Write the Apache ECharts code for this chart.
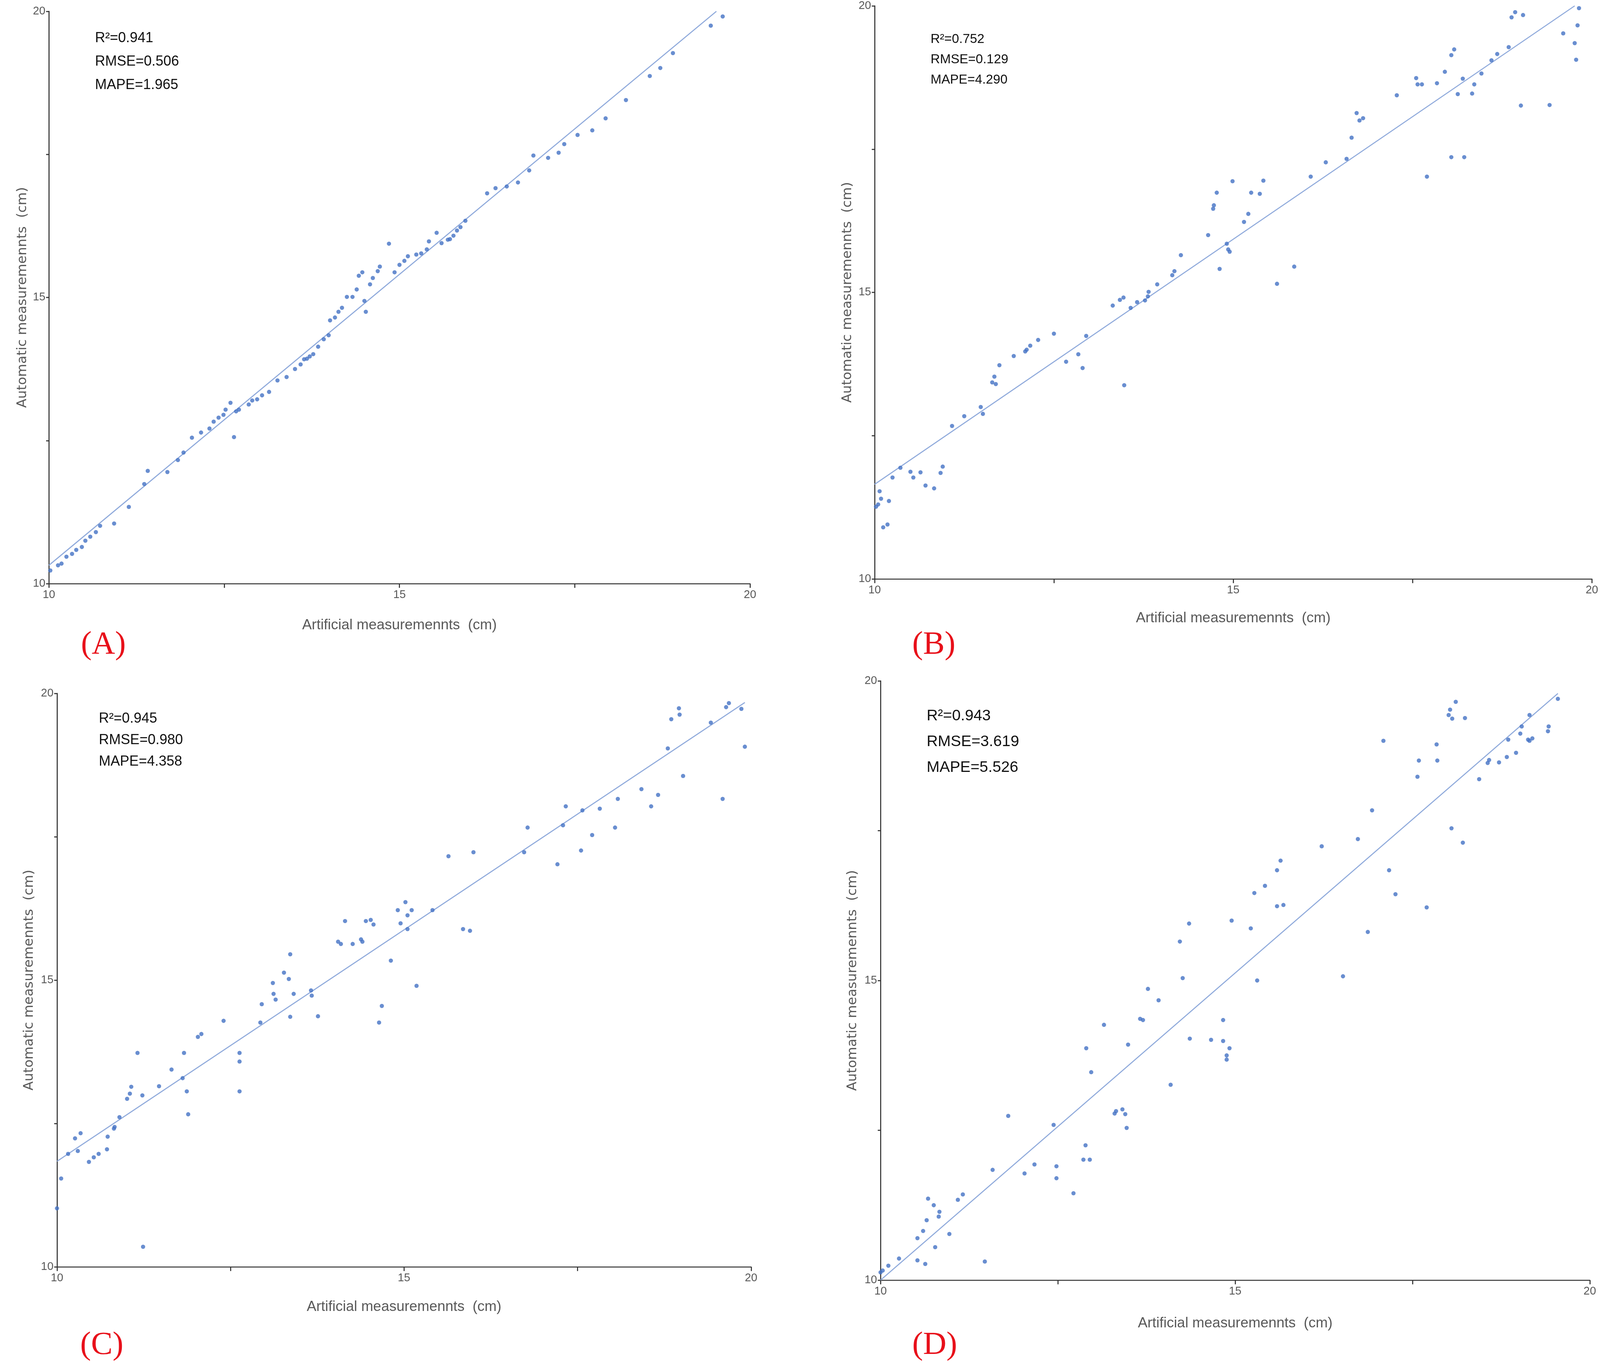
<!DOCTYPE html>
<html>
<head>
<meta charset="utf-8">
<script src="https://cdn.jsdelivr.net/npm/echarts@6/dist/echarts.min.js"></script>
<style>html,body{margin:0;padding:0;background:#fff;overflow:hidden;}#c{width:100vw;height:100vh;}</style>
</head>
<body>
<div id="c"></div>
<script>
// ---------- DATA ----------
const axisTicks = [10, 12.5, 15, 17.5, 20];
const panelLabels = ['(A)', '(B)', '(C)', '(D)'];
const statsA = ['R²=0.941', 'RMSE=0.506', 'MAPE=1.965'];
const statsB = ['R²=0.752', 'RMSE=0.129', 'MAPE=4.290'];
const statsC = ['R²=0.945', 'RMSE=0.980', 'MAPE=4.358'];
const statsD = ['R²=0.943', 'RMSE=3.619', 'MAPE=5.526'];
const xName = 'Artificial measuremennts  (cm)';
const yName = 'Automatic measuremennts  (cm)';

const xA = [10.02,10.13,10.18,10.25,10.33,10.39,10.47,10.52,10.59,10.67,10.73,10.93,11.14,11.36,11.41,11.69,11.84,11.92,12.04,12.17,12.29,12.35,12.42,12.49,12.52,12.59,12.64,12.67,12.71,12.85,12.90,12.97,13.04,13.14,13.26,13.39,13.51,13.59,13.64,13.68,13.72,13.77,13.84,13.92,13.99,14.01,14.08,14.13,14.18,14.25,14.33,14.39,14.42,14.47,14.50,14.52,14.58,14.62,14.69,14.72,14.85,14.93,15.00,15.07,15.12,15.24,15.31,15.39,15.42,15.53,15.60,15.69,15.72,15.77,15.82,15.87,15.94,16.25,16.37,16.53,16.69,16.85,16.91,17.12,17.27,17.35,17.54,17.75,17.94,18.23,18.57,18.72,18.90,19.44,19.61];
const yA = [10.23,10.32,10.35,10.47,10.52,10.59,10.64,10.75,10.82,10.90,11.01,11.05,11.34,11.74,11.97,11.95,12.16,12.29,12.55,12.64,12.71,12.83,12.90,12.95,13.04,13.16,12.56,13.01,13.04,13.13,13.20,13.22,13.29,13.35,13.55,13.61,13.75,13.83,13.92,13.93,13.97,14.01,14.14,14.27,14.34,14.60,14.65,14.75,14.82,15.01,15.01,15.14,15.38,15.44,14.94,14.75,15.23,15.34,15.46,15.54,15.94,15.44,15.57,15.64,15.72,15.75,15.77,15.84,15.98,16.13,15.95,16.01,16.02,16.08,16.17,16.23,16.34,16.82,16.91,16.94,17.01,17.22,17.48,17.44,17.53,17.68,17.84,17.92,18.13,18.45,18.87,19.01,19.27,19.75,19.91];
const fitA = [[10, 10.32], [19.52, 20]];

const xB = [10.02,10.05,10.07,10.09,10.12,10.18,10.20,10.25,10.36,10.50,10.54,10.64,10.71,10.83,10.92,10.95,11.08,11.25,11.48,11.51,11.64,11.67,11.69,11.74,11.94,12.10,12.12,12.17,12.28,12.50,12.67,12.84,12.90,12.95,13.32,13.42,13.47,13.48,13.57,13.66,13.77,13.81,13.82,13.94,14.15,14.18,14.27,14.65,14.72,14.73,14.77,14.81,14.91,14.93,14.95,14.99,15.15,15.21,15.25,15.37,15.42,15.61,15.85,16.08,16.29,16.58,16.65,16.72,16.76,16.81,17.28,17.55,17.57,17.63,17.70,17.84,17.95,18.04,18.04,18.08,18.13,18.20,18.22,18.33,18.36,18.46,18.60,18.68,18.84,18.88,18.93,19.01,19.04,19.41,19.60,19.76,19.78,19.80,19.82];
const yB = [11.26,11.30,11.53,11.40,10.90,10.95,11.36,11.77,11.94,11.87,11.77,11.86,11.63,11.58,11.85,11.96,12.67,12.84,13.00,12.88,13.43,13.53,13.40,13.73,13.89,13.97,14.00,14.07,14.17,14.28,13.79,13.92,13.68,14.24,14.77,14.87,14.91,13.38,14.73,14.83,14.86,14.93,15.01,15.14,15.30,15.37,15.65,16.00,16.46,16.52,16.74,15.41,15.85,15.75,15.71,16.94,16.23,16.37,16.74,16.72,16.95,15.15,15.45,17.02,17.27,17.33,17.70,18.13,18.00,18.04,18.44,18.74,18.63,18.63,17.02,18.65,18.85,19.14,17.36,19.24,18.46,18.73,17.36,18.47,18.63,18.82,19.05,19.16,19.28,19.80,19.89,18.26,19.84,18.27,19.52,19.35,19.06,19.66,19.96];
const fitB = [[10, 11.65], [19.76, 20]];

const xC = [10.00,10.06,10.16,10.26,10.30,10.34,10.46,10.53,10.60,10.72,10.73,10.82,10.83,10.90,11.01,11.05,11.07,11.16,11.23,11.24,11.47,11.65,11.81,11.83,11.87,11.89,12.03,12.08,12.40,12.63,12.63,12.63,12.93,12.95,13.11,13.12,13.15,13.27,13.34,13.36,13.36,13.41,13.66,13.67,13.76,14.05,14.09,14.15,14.26,14.38,14.40,14.45,14.52,14.56,14.64,14.68,14.81,14.91,14.95,15.02,15.05,15.05,15.11,15.18,15.41,15.64,15.85,15.95,16.00,16.73,16.78,17.21,17.29,17.33,17.55,17.57,17.71,17.82,18.04,18.08,18.42,18.56,18.66,18.80,18.85,18.96,18.97,19.02,19.42,19.59,19.64,19.68,19.86,19.91];
const yC = [11.02,11.54,11.97,12.24,12.02,12.33,11.83,11.91,11.97,12.05,12.27,12.41,12.44,12.61,12.93,13.02,13.14,13.73,12.99,10.35,13.15,13.44,13.29,13.73,13.06,12.66,14.01,14.06,14.29,13.73,13.58,13.06,14.26,14.58,14.95,14.76,14.66,15.13,15.02,15.45,14.36,14.76,14.82,14.73,14.37,15.67,15.63,16.03,15.63,15.71,15.67,16.03,16.05,15.97,14.26,14.55,15.34,16.22,15.99,16.36,16.13,15.89,16.22,14.90,16.22,17.16,15.89,15.86,17.23,17.23,17.66,17.02,17.70,18.03,17.26,17.96,17.53,17.99,17.66,18.16,18.33,18.03,18.23,19.04,19.55,19.74,19.63,18.56,19.49,18.16,19.76,19.83,19.73,19.07];
const fitC = [[10, 11.84], [19.91, 19.84]];

const xD = [10.00,10.03,10.11,10.26,10.52,10.52,10.60,10.63,10.65,10.67,10.75,10.77,10.82,10.83,10.97,11.09,11.16,11.47,11.58,11.80,12.03,12.17,12.44,12.48,12.48,12.72,12.86,12.89,12.90,12.95,12.97,13.15,13.30,13.32,13.41,13.45,13.47,13.49,13.66,13.70,13.77,13.92,14.09,14.22,14.26,14.35,14.36,14.66,14.83,14.83,14.88,14.88,14.92,14.95,15.22,15.27,15.31,15.42,15.59,15.59,15.64,15.68,16.22,16.52,16.73,16.87,16.93,17.09,17.17,17.26,17.57,17.59,17.70,17.84,17.85,18.01,18.03,18.05,18.06,18.11,18.21,18.24,18.44,18.56,18.58,18.72,18.83,18.85,18.96,19.02,19.04,19.13,19.15,19.15,19.19,19.41,19.42,19.55];
const yD = [10.13,10.16,10.24,10.36,10.33,10.70,10.82,10.27,11.00,11.36,11.25,10.55,11.06,11.14,10.77,11.34,11.43,10.31,11.84,12.74,11.78,11.93,12.59,11.90,11.70,11.45,12.01,12.25,13.87,12.01,13.47,14.26,12.78,12.82,12.85,12.77,12.54,13.93,14.36,14.34,14.86,14.67,13.26,15.65,15.04,15.95,14.03,14.01,14.34,13.99,13.75,13.68,13.87,16.00,15.87,16.46,15.00,16.58,16.84,16.24,17.00,16.26,17.24,15.07,17.36,15.81,17.84,19.00,16.84,16.44,18.40,18.67,16.22,18.94,18.67,19.43,19.52,17.54,19.37,19.65,17.30,19.38,18.36,18.63,18.68,18.64,18.73,19.02,18.80,19.12,19.24,19.02,19.43,19.00,19.04,19.16,19.24,19.70];
const fitD = [[10, 10], [19.55, 19.79]];

// ---------- LAYOUT (in reference pixels, scaled to the actual viewport) ----------
const REF_W = 4548, REF_H = 3502;
const el = document.getElementById('c');
const W = el.clientWidth || window.innerWidth, H = el.clientHeight || window.innerHeight;
const sx = W / REF_W, sy = H / REF_H, s = Math.min(sx, sy);

const panels = [
  {x: xA, y: yA, fit: fitA, stats: statsA, label: panelLabels[0], g: [139, 29, 1993, 1465], st: [270, 80, 40, 60], xg: 88, yg: 56, lab: [230, 1610]},
  {x: xB, y: yB, fit: fitB, stats: statsB, label: panelLabels[1], g: [2486, 15, 2039, 1467], st: [2645, 84, 37, 52], xg: 82, yg: 58, lab: [2593, 1610]},
  {x: xC, y: yC, fit: fitC, stats: statsC, label: panelLabels[2], g: [162, 1775, 1973, 1468], st: [281, 1822, 40, 55], xg: 84, yg: 60, lab: [228, 3403]},
  {x: xD, y: yD, fit: fitD, stats: statsD, label: panelLabels[3], g: [2503, 1743, 2016, 1534], st: [2634, 1813, 44, 66], xg: 92, yg: 60, lab: [2593, 3403]}
];

const grid = [], xAxis = [], yAxis = [], series = [], graphic = [];
const gray = '#595959';
const lbl = v => (v % 5 === 0 ? String(v) : '');

panels.forEach((p, i) => {
  grid.push({left: p.g[0] * sx, top: p.g[1] * sy, width: p.g[2] * sx, height: p.g[3] * sy, containLabel: false});
  xAxis.push({
    type: 'value', gridIndex: i, min: axisTicks[0], max: axisTicks[axisTicks.length - 1], interval: 2.5,
    name: xName, nameLocation: 'middle', nameGap: p.xg * sy,
    nameTextStyle: {fontFamily: 'Liberation Sans', fontSize: 41 * s, color: gray},
    axisLine: {show: true, onZero: false, lineStyle: {color: '#333', width: 3 * s}},
    axisTick: {show: true, length: 12 * s, lineStyle: {color: '#333', width: 3 * s}},
    axisLabel: {formatter: lbl, fontFamily: 'Liberation Sans', fontSize: 32 * s, color: gray, margin: 16 * s},
    splitLine: {show: false}
  });
  yAxis.push({
    type: 'value', gridIndex: i, min: axisTicks[0], max: axisTicks[axisTicks.length - 1], interval: 2.5,
    name: yName, nameLocation: 'middle', nameGap: p.yg * sx,
    nameTextStyle: {fontFamily: 'DejaVu Sans', fontSize: 38 * s, color: gray},
    axisLine: {show: true, onZero: false, lineStyle: {color: '#333', width: 3 * s}},
    axisTick: {show: true, length: 8 * s, lineStyle: {color: '#333', width: 3 * s}},
    axisLabel: {formatter: lbl, fontFamily: 'Liberation Sans', fontSize: 32 * s, color: gray, margin: 10 * s},
    splitLine: {show: false}
  });
  series.push({
    type: 'line', xAxisIndex: i, yAxisIndex: i, data: p.fit, symbol: 'none', silent: true,
    lineStyle: {color: '#8EA9DB', width: 3 * s}, z: 2
  });
  series.push({
    type: 'scatter', xAxisIndex: i, yAxisIndex: i, data: p.x.map((v, k) => [v, p.y[k]]),
    symbolSize: 12 * s, itemStyle: {color: '#4472C4'}, z: 3
  });
  p.stats.forEach((t, k) => {
    graphic.push({type: 'text', left: p.st[0] * sx, top: (p.st[1] + k * p.st[3]) * sy,
      style: {text: t, fontFamily: 'Liberation Sans', fontSize: p.st[2] * s, fill: '#111'}});
  });
  graphic.push({type: 'text', left: p.lab[0] * sx, top: p.lab[1] * sy,
    style: {text: p.label, fontFamily: 'Liberation Serif', fontSize: 92 * s, fill: '#E8101A'}});
});

const chart = echarts.init(el, null, {renderer: 'canvas'});
chart.setOption({backgroundColor: '#fff', animation: false, grid, xAxis, yAxis, series, graphic});
</script>
</body>
</html>
